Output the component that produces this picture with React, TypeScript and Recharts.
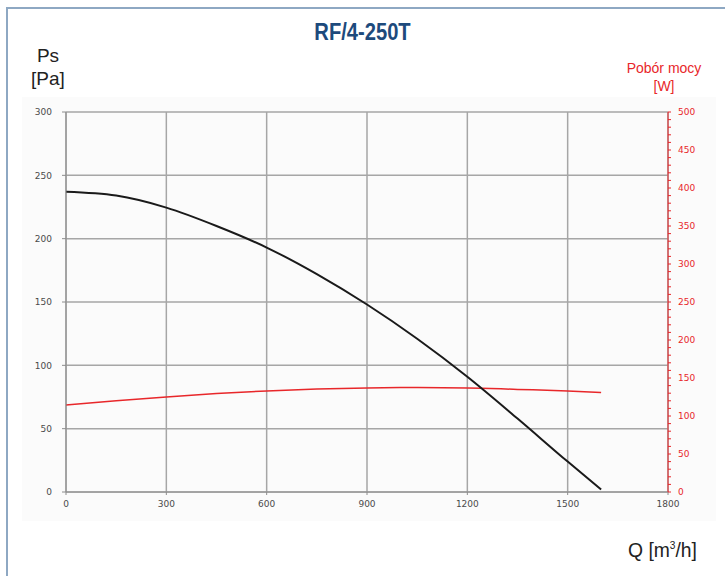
import { CartesianGrid, Line, LineChart, XAxis, YAxis } from "recharts";

// przepływ Q [m3/h]
const flow = [0, 150, 300, 450, 600, 750, 900, 1050, 1200, 1350, 1500, 1600];
// ciśnienie statyczne Ps [Pa]
const pressure = [237, 234, 224.5, 210, 193, 172, 148, 121, 91, 58, 24, 2];
// pobór mocy [W]
const power = [114.5, 120, 125, 129.5, 133, 135.5, 137, 137.5, 137, 135, 133, 131];

const xTicks = [0, 300, 600, 900, 1200, 1500, 1800];
const leftTicks = [0, 50, 100, 150, 200, 250, 300];
const rightLabels = [0, 50, 100, 150, 200, 250, 300, 350, 400, 450, 500];
const rightTicks = Array.from({ length: 51 }, (_, i) => i * 10); // drobne kreski co 10 W

const data = flow.map((q, i) => ({ q, ps: pressure[i], w: power[i] }));

const tickFont = { fontFamily: "DejaVu Sans", fontSize: 9 };

export default function App() {
  return (
    <div style={{ position: "absolute", left: 0, top: 0, width: 725, height: 576, overflow: "hidden", background: "#fff" }}>
      <div style={{ position: "absolute", left: 6, top: 7, width: 900, height: 900, borderLeft: "2px solid #8ea8c3", borderTop: "2px solid #8ea8c3" }} />
      <div style={{ position: "absolute", left: 22, top: 97, width: 694, height: 424, background: "#fbfbfb" }} />

      <div style={{ position: "absolute", left: 0, width: 725, top: 18, textAlign: "center", fontFamily: "'Liberation Sans', sans-serif", fontWeight: "bold", fontSize: 24, color: "#1d4a7c", transform: "scaleX(0.84)" }}>
        RF/4-250T
      </div>
      <div style={{ position: "absolute", left: 18, width: 60, top: 44, textAlign: "center", fontFamily: "'Liberation Sans', sans-serif", fontSize: 19, lineHeight: "23px", color: "#222" }}>
        Ps<br />[Pa]
      </div>
      <div style={{ position: "absolute", left: 600, width: 128, top: 59, textAlign: "center", fontFamily: "'Liberation Sans', sans-serif", fontSize: 14, lineHeight: "18px", color: "#e8272a" }}>
        Pobór mocy<br />[W]
      </div>
      <div style={{ position: "absolute", left: 628, top: 538, fontFamily: "'Liberation Sans', sans-serif", fontSize: 21, color: "#222", transform: "scaleX(0.92)", transformOrigin: "left" }}>
        Q [m<sup style={{ fontSize: 11 }}>3</sup>/h]
      </div>

      <div style={{ position: "absolute", left: 0, top: 0 }}>
        <LineChart width={725} height={576} data={data} margin={{ top: 112, right: 17, bottom: 64, left: 26 }}>
          <CartesianGrid yAxisId="left" stroke="#a6a6a6" strokeWidth={1.5} horizontalValues={leftTicks} verticalValues={xTicks} />
          <XAxis dataKey="q" type="number" domain={[0, 1800]} ticks={xTicks} height={20} stroke="#8c8c8c" tickSize={3} tickMargin={6} tick={{ ...tickFont, fill: "#4a4a4a" }} interval={0} />
          <YAxis yAxisId="left" domain={[0, 300]} ticks={leftTicks} width={40} stroke="#8c8c8c" tickSize={4} tickMargin={10} tick={{ ...tickFont, fill: "#4a4a4a" }} interval={0} />
          <YAxis yAxisId="right" orientation="right" domain={[0, 500]} ticks={rightTicks} width={40} stroke="#e8272a" tickSize={3} tickMargin={7} interval={0}
            tick={{ ...tickFont, fill: "#e8272a" }} tickFormatter={(v) => (rightLabels.includes(v) ? String(v) : "")} />
          <Line yAxisId="right" type="monotone" dataKey="w" stroke="#e8272a" strokeWidth={1.5} dot={false} isAnimationActive={false} />
          <Line yAxisId="left" type="monotone" dataKey="ps" stroke="#1a1a1a" strokeWidth={2} dot={false} isAnimationActive={false} />
        </LineChart>
      </div>
    </div>
  );
}
